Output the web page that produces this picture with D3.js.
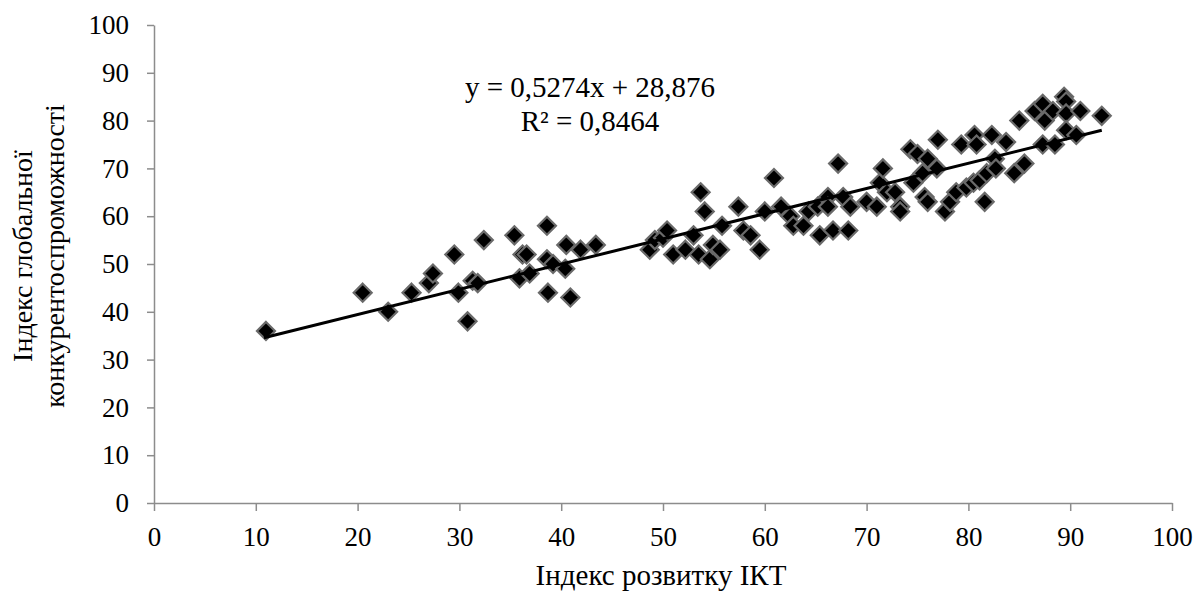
<!DOCTYPE html>
<html>
<head>
<meta charset="utf-8">
<script src="https://cdn.jsdelivr.net/npm/d3@7/dist/d3.min.js"></script>
<style>
  body { margin: 0; background: #fff; }
  text { font-family: "Liberation Serif", "Times New Roman", serif; fill: #000; }
</style>
</head>
<body>
<svg width="1197" height="594"></svg>
<script>
// ICT development index (x) vs global competitiveness index (y)
var ictIndex = [11.0, 20.5, 23.0, 25.3, 27.0, 27.4, 29.5, 29.9, 30.8, 31.3, 31.8, 32.4,
  35.4, 35.9, 36.2, 36.6, 36.9, 38.6, 38.6, 38.7, 39.2, 40.5, 40.4, 40.9, 41.9, 43.4,
  48.7, 49.2, 50.0, 50.4, 51.0, 52.2, 53.0, 53.5, 53.7, 54.1, 54.6, 54.9, 55.6, 55.8,
  57.4, 57.9, 58.6, 59.5, 60.0, 60.9, 61.6, 62.5, 62.8, 63.8, 64.3, 65.2, 65.4, 66.2,
  66.2, 66.7, 67.2, 67.7, 68.2, 68.4, 70.0, 71.0, 71.3, 71.6, 72.0, 72.8, 73.3, 73.3,
  74.3, 74.6, 75.0, 75.5, 75.7, 76.0, 76.0, 76.9, 77.0, 77.7, 78.2, 78.8, 79.3, 79.8,
  80.5, 80.6, 80.8, 81.1, 81.6, 81.8, 82.3, 82.6, 82.7, 83.7, 84.5, 85.0, 85.5, 86.5,
  87.3, 87.5, 87.3, 88.3, 88.5, 89.4, 89.6, 89.6, 89.6, 90.6, 91.0, 93.1];
var gciIndex = [36, 44, 40, 44, 46, 48, 52, 44, 38, 46.5, 46, 55,
  56, 47, 52, 52, 48, 58, 51, 44, 50, 54, 49, 43, 53, 54,
  53, 55, 55.5, 57, 52, 53, 56, 52, 65, 61, 51, 54, 53, 58,
  62, 57, 56, 53, 61, 68, 62, 60, 58, 58, 61, 62, 56, 64,
  62, 57, 71, 64, 57, 62, 63, 62, 67, 70, 65, 65, 62, 61,
  74, 67, 73, 69, 64, 63, 72, 70, 76, 61, 63, 65, 75, 66,
  67, 77, 75, 67.5, 63, 69, 77, 72, 70, 75.5, 69, 80, 71, 82,
  83.5, 80, 75, 82, 75, 85, 84, 81.5, 78, 77, 82, 81];

var xTicks = [0, 10, 20, 30, 40, 50, 60, 70, 80, 90, 100];
var yTicks = [0, 10, 20, 30, 40, 50, 60, 70, 80, 90, 100];

// linear trend from the chart label
var trendSlope = 0.5274;
var trendIntercept = 28.876;
var trendLabel = ["y = 0,5274x + 28,876", "R² = 0,8464"];

var xTitle = "Індекс розвитку ІКТ";
var yTitle = ["Індекс глобальної", "конкурентоспроможності"];

var svg = d3.select("svg");

var x = d3.scaleLinear().domain([0, 100]).range([154, 1172]);
var y = d3.scaleLinear().domain([0, 100]).range([503, 25]);

var axisColor = "#8c8c8c";

var xAxis = svg.append("g")
    .attr("transform", "translate(0," + y(0) + ")")
    .call(d3.axisBottom(x).tickValues(xTicks).tickSize(8).tickSizeOuter(0).tickPadding(16));
var yAxis = svg.append("g")
    .attr("transform", "translate(" + x(0) + ",0)")
    .call(d3.axisLeft(y).tickValues(yTicks).tickSize(7).tickSizeOuter(0).tickPadding(18));

[xAxis, yAxis].forEach(function(a) {
    a.select(".domain").attr("stroke", axisColor).attr("stroke-width", 1.5);
    a.selectAll(".tick line").attr("stroke", axisColor).attr("stroke-width", 1.5);
    a.selectAll(".tick text")
        .attr("fill", "#000")
        .style("font-family", "'Liberation Serif', serif")
        .style("font-size", "27px");
});

// points
var points = ictIndex.map(function(v, i) { return {x: v, y: gciIndex[i]}; });
var r = 9;
svg.append("g").attr("class", "points")
    .selectAll("path")
    .data(points)
    .enter().append("path")
    .attr("d", "M0," + (-r) + "L" + r + ",0L0," + r + "L" + (-r) + ",0Z")
    .attr("transform", function(d) { return "translate(" + x(d.x) + "," + y(d.y) + ")"; })
    .attr("fill", "#000")
    .attr("stroke", "#6a6a6a")
    .attr("stroke-width", 2.2);

// trendline over the x extent of the data
var xExt = d3.extent(ictIndex);
svg.append("line")
    .attr("x1", x(xExt[0] - 0.2))
    .attr("y1", y(trendSlope * (xExt[0] - 0.2) + trendIntercept))
    .attr("x2", x(xExt[1]))
    .attr("y2", y(trendSlope * xExt[1] + trendIntercept))
    .attr("stroke", "#000")
    .attr("stroke-width", 3);

svg.append("g").selectAll("text")
    .data(trendLabel)
    .enter().append("text")
    .attr("x", 590)
    .attr("y", function(d, i) { return 97 + i * 34; })
    .attr("text-anchor", "middle")
    .style("font-size", "29px")
    .text(function(d) { return d; });

svg.append("text")
    .attr("x", 661)
    .attr("y", 585)
    .attr("text-anchor", "middle")
    .style("font-size", "29px")
    .text(xTitle);

svg.append("g")
    .attr("transform", "translate(0,256) rotate(-90)")
    .selectAll("text")
    .data(yTitle)
    .enter().append("text")
    .attr("x", 0)
    .attr("y", function(d, i) { return 32 + i * 32; })
    .attr("text-anchor", "middle")
    .style("font-size", "28px")
    .text(function(d) { return d; });
</script>
</body>
</html>
